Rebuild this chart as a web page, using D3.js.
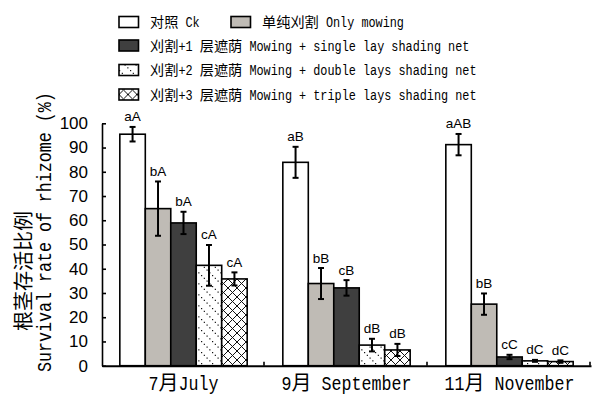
<!DOCTYPE html>
<html>
<head>
<meta charset="utf-8">
<script src="https://cdn.jsdelivr.net/npm/d3@7"></script>
<style>
  html, body { margin: 0; padding: 0; background: #fff; }
  svg { display: block; }
</style>
</head>
<body>
<svg id="chart" width="593" height="400"></svg>
<script>
// Survival rate of rhizome (%) by month and treatment
const months = ["7月July", "9月 September", "11月 November"];
const seriesKeys = ["ck", "mowing", "single", "double", "triple"];
const seriesLabels = [
  "对照 Ck",
  "单纯刈割 Only mowing",
  "刈割+1 层遮荫 Mowing + single lay shading net",
  "刈割+2 层遮荫 Mowing + double lays shading net",
  "刈割+3 层遮荫 Mowing + triple lays shading net"
];

const ckValues     = [95.5, 83.9, 91.2];
const mowingValues = [64.8, 33.9, 25.4];
const singleValues = [58.9, 32.1, 3.6];
const doubleValues = [41.4, 8.5, 2.0];
const tripleValues = [35.8, 6.5, 1.7];

const ckErrors     = [3.0, 6.4, 4.4];
const mowingErrors = [11.2, 6.4, 4.4];
const singleErrors = [4.6, 3.2, 0.9];
const doubleErrors = [8.4, 2.6, 0.4];
const tripleErrors = [2.7, 2.5, 0.5];

const ckLetters     = ["aA", "aB", "aAB"];
const mowingLetters = ["bA", "bB", "bB"];
const singleLetters = ["bA", "cB", "cC"];
const doubleLetters = ["cA", "dB", "dC"];
const tripleLetters = ["cA", "dB", "dC"];

const yTicks = [0, 10, 20, 30, 40, 50, 60, 70, 80, 90, 100];

const valueTable = [ckValues, mowingValues, singleValues, doubleValues, tripleValues];
const errorTable = [ckErrors, mowingErrors, singleErrors, doubleErrors, tripleErrors];
const letterTable = [ckLetters, mowingLetters, singleLetters, doubleLetters, tripleLetters];

const rows = [];
months.forEach((m, i) => {
  seriesKeys.forEach((k, j) => {
    rows.push({ month: m, key: k, value: valueTable[j][i], err: errorTable[j][i], letter: letterTable[j][i] });
  });
});

const svg = d3.select("#chart");

// Fills for each treatment
const defs = svg.append("defs");
const dots = defs.append("pattern").attr("id", "pat-dots")
  .attr("patternUnits", "userSpaceOnUse").attr("width", 11).attr("height", 11);
dots.append("rect").attr("width", 11).attr("height", 11).attr("fill", "#fff");
[0, 1, 2, 3].forEach(i => {
  dots.append("rect").attr("x", i * 2.75).attr("y", i * 2.75)
    .attr("width", 1.2).attr("height", 1.2).attr("fill", "#111");
});
const cross = defs.append("pattern").attr("id", "pat-cross")
  .attr("patternUnits", "userSpaceOnUse").attr("width", 9).attr("height", 9);
cross.append("rect").attr("width", 9).attr("height", 9).attr("fill", "#fff");
cross.append("path").attr("d", "M-1,-1L10,10M-1,10L10,-1")
  .attr("stroke", "#111").attr("stroke-width", 1).attr("fill", "none");

const fills = {
  ck: "#ffffff",
  mowing: "#bfbbb5",
  single: "#3f3f3f",
  double: "url(#pat-dots)",
  triple: "url(#pat-cross)"
};

// Scales
const x0 = d3.scaleBand().domain(months).range([102, 591]).padding(0);
const x1 = d3.scaleBand().domain(seriesKeys).range([0, x0.bandwidth()])
  .paddingInner(0).paddingOuter(0.7);
const y = d3.scaleLinear().domain([0, 100]).range([365.7, 123.3]);

// Hei-style mixed text: full-width CJK runs, half-width (narrowed mono) Latin runs
const cjkRe = /[\u3000-\u9fff\uff00-\uffef]/;
const MONO_ADVANCE = 0.6; // Liberation Mono advance per em
function splitRuns(str) {
  const runs = [];
  for (const ch of str) {
    const cjk = cjkRe.test(ch);
    if (runs.length && runs[runs.length - 1].cjk === cjk) runs[runs.length - 1].s += ch;
    else runs.push({ cjk, s: ch });
  }
  return runs;
}
function mixedLabel(parent, str, fs, x, yPos, anchor, rotate) {
  const runs = splitRuns(str);
  runs.forEach(r => { r.w = [...r.s].length * (r.cjk ? fs : fs / 2); });
  const total = d3.sum(runs, r => r.w);
  const g = parent.append("g")
    .attr("transform", `translate(${x},${yPos})` + (rotate ? ` rotate(${rotate})` : ""));
  let cx = anchor === "middle" ? -total / 2 : 0;
  runs.forEach(r => {
    if (r.cjk) {
      g.append("text")
        .attr("x", cx).attr("y", 0)
        .attr("font-family", "'Noto Sans CJK SC', sans-serif")
        .attr("font-size", fs).attr("fill", "#000")
        .text(r.s);
    } else {
      const sx = 0.5 / MONO_ADVANCE;
      g.append("text")
        .attr("transform", `translate(${cx},0) scale(${sx},1)`)
        .attr("font-family", "'Liberation Mono', monospace")
        .attr("font-size", fs).attr("fill", "#000")
        .attr("xml:space", "preserve")
        .style("white-space", "pre")
        .text(r.s);
    }
    cx += r.w;
  });
  return g;
}

// Bars
const groups = svg.append("g").selectAll("g")
  .data(months).join("g")
  .attr("transform", d => `translate(${x0(d)},0)`);

groups.selectAll("rect")
  .data(m => rows.filter(r => r.month === m))
  .join("rect")
  .attr("x", d => x1(d.key))
  .attr("y", d => y(d.value))
  .attr("width", x1.bandwidth())
  .attr("height", d => y(0) - y(d.value))
  .attr("fill", d => fills[d.key])
  .attr("stroke", "#000")
  .attr("stroke-width", 1.6);

// Error bars
const eb = groups.selectAll("g.err")
  .data(m => rows.filter(r => r.month === m))
  .join("g").attr("class", "err")
  .attr("stroke", "#000").attr("stroke-width", 2);
eb.append("line")
  .attr("x1", d => x1(d.key) + x1.bandwidth() / 2)
  .attr("x2", d => x1(d.key) + x1.bandwidth() / 2)
  .attr("y1", d => y(d.value + d.err))
  .attr("y2", d => y(d.value - d.err));
[1, -1].forEach(s => {
  eb.append("line")
    .attr("x1", d => x1(d.key) + x1.bandwidth() / 2 - 3)
    .attr("x2", d => x1(d.key) + x1.bandwidth() / 2 + 3)
    .attr("y1", d => y(d.value + s * d.err))
    .attr("y2", d => y(d.value + s * d.err));
});

// Significance letters
groups.selectAll("text.sig")
  .data(m => rows.filter(r => r.month === m))
  .join("text").attr("class", "sig")
  .attr("x", d => x1(d.key) + x1.bandwidth() / 2)
  .attr("y", d => y(d.value + d.err) - 5.5)
  .attr("text-anchor", "middle")
  .attr("font-family", "'Liberation Sans', Arial, sans-serif")
  .attr("font-size", 13.5)
  .attr("fill", "#000")
  .text(d => d.letter);

// Y axis
const yAxis = svg.append("g")
  .attr("transform", `translate(102,0)`)
  .call(d3.axisLeft(y).tickValues(yTicks).tickSizeInner(-4).tickSizeOuter(0).tickPadding(14));
yAxis.select(".domain").attr("stroke", "#000").attr("stroke-width", 1.6);
yAxis.selectAll(".tick line").attr("stroke", "#000").attr("stroke-width", 1.6);
yAxis.selectAll(".tick text")
  .attr("font-family", "'Liberation Sans', Arial, sans-serif")
  .attr("font-size", 17).attr("fill", "#000");

// X axis
const xAxis = svg.append("g")
  .attr("transform", `translate(0,${y(0)})`)
  .call(d3.axisBottom(x0).tickSize(0).tickPadding(0).tickFormat(""));
xAxis.select(".domain").attr("stroke", "#000").attr("stroke-width", 2);
xAxis.selectAll(".tick text").remove();
svg.append("g").selectAll("line")
  .data(months).join("line")
  .attr("x1", d => x0(d) + x0.bandwidth() - 1)
  .attr("x2", d => x0(d) + x0.bandwidth() - 1)
  .attr("y1", y(0)).attr("y2", y(0) - 4)
  .attr("stroke", "#000").attr("stroke-width", 1.6);
const xLabels = svg.append("g");
months.forEach(m => mixedLabel(xLabels, m, 20, x0(m) + x0.bandwidth() / 2, 390, "middle"));

// Y axis title (two lines)
const yTitle = svg.append("g");
mixedLabel(yTitle, "根茎存活比例", 20, 31, 271, "middle", -90);
mixedLabel(yTitle, "Survival rate of rhizome (%)", 20, 51, 232, "middle", -90);

// Legend
const legendPos = [
  { x: 119, y: 22 },
  { x: 231, y: 22 },
  { x: 119, y: 45.5 },
  { x: 119, y: 70 },
  { x: 119, y: 94.5 }
];
const legend = svg.append("g").selectAll("g")
  .data(seriesKeys).join("g")
  .attr("transform", (d, i) => `translate(${legendPos[i].x},${legendPos[i].y})`);
legend.append("rect")
  .attr("x", 0).attr("y", -5.5).attr("width", 19.5).attr("height", 11)
  .attr("fill", d => fills[d]).attr("stroke", "#000").attr("stroke-width", 1.6);
legend.each(function (d, i) {
  mixedLabel(d3.select(this), seriesLabels[i], 14.2, 31, 5, "start");
});
</script>
</body>
</html>
